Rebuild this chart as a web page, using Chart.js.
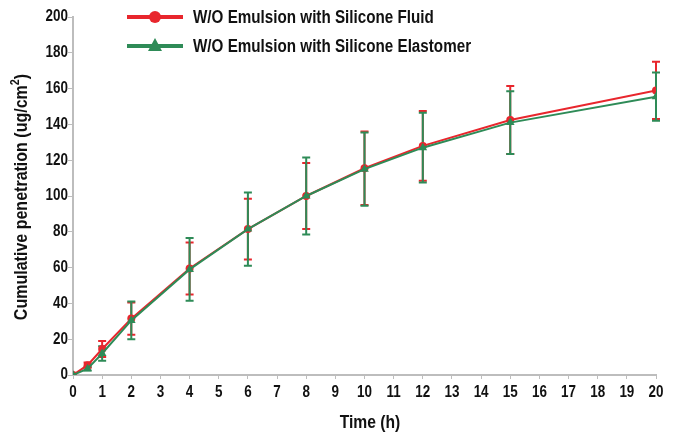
<!DOCTYPE html>
<html>
<head>
<meta charset="utf-8">
<script src="https://cdn.jsdelivr.net/npm/chart.js@4"></script>
<style>
  html, body { margin: 0; padding: 0; background: #fff; }
  #wrap { width: 679px; height: 439px; }
</style>
</head>
<body>
<div id="wrap"><canvas id="penChart"></canvas></div>
<script>
// Data
const timeH = [0, 0.5, 1, 2, 4, 6, 8, 10, 12, 15, 20];
const fluidMean = [0, 5.5, 14.5, 31.5, 59.5, 81.5, 100, 115.5, 128, 142.5, 159];
const fluidSd = [0, 1.5, 4.5, 9, 14.5, 17, 18.5, 20.5, 19.5, 19, 16];
const elastMean = [0, 3.5, 12, 30.5, 59, 81.5, 100, 115, 127, 141, 155.5];
const elastSd = [0, 1, 4, 10.5, 17.5, 20.5, 21.5, 20.5, 19.5, 17.5, 13.5];
const seriesNames = ['W/O Emulsion with Silicone Fluid', 'W/O Emulsion with Silicone Elastomer'];
const xTicks = [0, 1, 2, 3, 4, 5, 6, 7, 8, 9, 10, 11, 12, 13, 14, 15, 16, 17, 18, 19, 20];

const colors = {
    fluid: '#e8262d',
    elast: '#2e8b57',
    axis: '#bdbdbd',
    text: '#111'
};
const FONT = '"Liberation Sans", Arial, sans-serif';

const toPoints = (xs, ys) => xs.map((x, i) => ({ x: x, y: ys[i] }));

// the original uses a condensed bold face; squeeze Liberation Sans to mimic it
function narrowText(ctx, text, x, y, size, squeeze, align) {
    ctx.save();
    ctx.font = 'bold ' + size + 'px ' + FONT;
    ctx.textBaseline = 'middle';
    ctx.textAlign = align || 'left';
    ctx.translate(x, y);
    ctx.scale(squeeze, 1);
    ctx.fillText(text, 0, 0);
    ctx.restore();
}

// error bars drawn through the chart's own scales, under the markers
const errorBars = {
    id: 'errorBars',
    beforeDatasetsDraw(chart) {
        const { ctx, scales: { x, y } } = chart;
        const sets = [
            { mean: fluidMean, sd: fluidSd, color: colors.fluid },
            { mean: elastMean, sd: elastSd, color: colors.elast }
        ];
        ctx.save();
        ctx.lineWidth = 2;
        sets.forEach(s => {
            ctx.strokeStyle = s.color;
            timeH.forEach((t, i) => {
                if (!s.sd[i]) return;
                const px = x.getPixelForValue(t);
                const top = y.getPixelForValue(s.mean[i] + s.sd[i]);
                const bot = y.getPixelForValue(s.mean[i] - s.sd[i]);
                ctx.beginPath();
                ctx.moveTo(px, top); ctx.lineTo(px, bot);
                ctx.moveTo(px - 4, top); ctx.lineTo(px + 4, top);
                ctx.moveTo(px - 4, bot); ctx.lineTo(px + 4, bot);
                ctx.stroke();
            });
        });
        ctx.restore();
    }
};

// tick labels, legend and axis titles
const decorations = {
    id: 'decorations',
    afterDraw(chart) {
        const ctx = chart.ctx;
        const { x, y } = chart.scales;
        ctx.save();
        ctx.fillStyle = colors.text;

        // tick labels placed with the scales
        x.ticks.forEach(t => {
            narrowText(ctx, String(t.value), x.getPixelForValue(t.value), 393, 16, 0.84, 'center');
        });
        y.ticks.forEach(t => {
            narrowText(ctx, String(t.value), 68, y.getPixelForValue(t.value), 16, 0.84, 'right');
        });

        // legend, sitting inside the plot
        const rows = [
            { y: 17, color: colors.fluid, shape: 'circle', label: seriesNames[0] },
            { y: 46, color: colors.elast, shape: 'triangle', label: seriesNames[1] }
        ];
        rows.forEach(r => {
            ctx.strokeStyle = r.color;
            ctx.fillStyle = r.color;
            ctx.lineWidth = 4;
            ctx.beginPath();
            ctx.moveTo(127, r.y); ctx.lineTo(183, r.y);
            ctx.stroke();
            ctx.beginPath();
            if (r.shape === 'circle') {
                ctx.arc(155, r.y, 6, 0, Math.PI * 2);
            } else {
                ctx.moveTo(155, r.y - 8);
                ctx.lineTo(162, r.y + 5);
                ctx.lineTo(148, r.y + 5);
                ctx.closePath();
            }
            ctx.fill();
            ctx.fillStyle = colors.text;
            narrowText(ctx, r.label, 193, r.y + 1, 18, 0.845, 'left');
        });

        // x title
        narrowText(ctx, 'Time (h)', 370, 423, 18, 0.87, 'center');

        // y title with superscript
        ctx.translate(22, 197);
        ctx.rotate(-Math.PI / 2);
        ctx.scale(0.89, 1);
        const main = 'Cumulative penetration (ug/cm';
        ctx.font = 'bold 18px ' + FONT;
        const wMain = ctx.measureText(main).width;
        ctx.font = 'bold 12px ' + FONT;
        const wSup = ctx.measureText('2').width;
        ctx.font = 'bold 18px ' + FONT;
        const wEnd = ctx.measureText(')').width;
        let sx = -(wMain + wSup + wEnd) / 2;
        ctx.textAlign = 'left';
        ctx.textBaseline = 'middle';
        ctx.fillText(main, sx, 0);
        sx += wMain;
        ctx.font = 'bold 12px ' + FONT;
        ctx.fillText('2', sx, -6);
        sx += wSup;
        ctx.font = 'bold 18px ' + FONT;
        ctx.fillText(')', sx, 0);
        ctx.restore();
    }
};

const ctx = document.getElementById('penChart').getContext('2d');
new Chart(ctx, {
    type: 'line',
    data: {
        datasets: [
            {
                label: seriesNames[1],
                data: toPoints(timeH, elastMean),
                borderColor: colors.elast,
                backgroundColor: colors.elast,
                borderWidth: 2,
                pointStyle: 'triangle',
                pointRadius: 5,
                pointBorderWidth: 0,
                tension: 0
            },
            {
                label: seriesNames[0],
                data: toPoints(timeH, fluidMean),
                borderColor: colors.fluid,
                backgroundColor: colors.fluid,
                borderWidth: 2,
                pointStyle: 'circle',
                pointRadius: 4,
                pointBorderWidth: 0,
                tension: 0
            }
        ]
    },
    options: {
        responsive: true,
        maintainAspectRatio: false,
        animation: false,
        layout: { padding: { left: 0, right: 23, top: 17, bottom: 0 } },
        plugins: {
            legend: { display: false },
            tooltip: { enabled: false }
        },
        scales: {
            x: {
                type: 'linear',
                min: 0,
                max: 20,
                afterBuildTicks: axis => { axis.ticks = xTicks.map(v => ({ value: v })); },
                afterFit: axis => { axis.height = 64; },
                border: { display: true, color: colors.axis, width: 2 },
                grid: { drawOnChartArea: false, drawTicks: true, tickLength: 4, color: colors.axis },
                ticks: { display: false }
            },
            y: {
                min: 0,
                max: 200,
                afterFit: axis => { axis.width = 73; },
                border: { display: true, color: colors.axis, width: 2 },
                grid: { drawOnChartArea: false, drawTicks: true, tickLength: 5, color: colors.axis },
                ticks: { display: false, stepSize: 20 }
            }
        }
    },
    plugins: [errorBars, decorations]
});
</script>
</body>
</html>
